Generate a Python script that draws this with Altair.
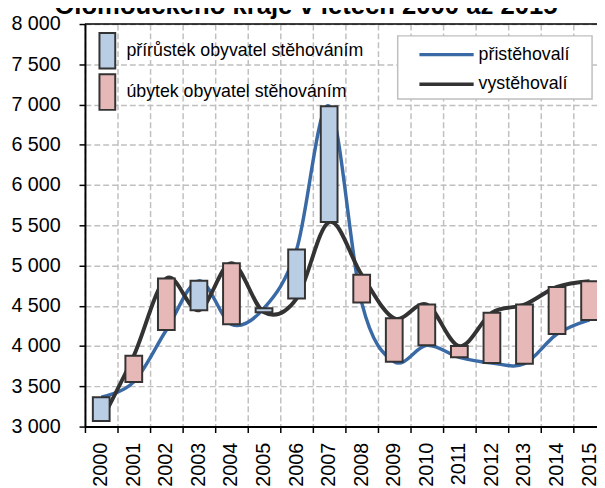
import altair as alt
import pandas as pd

title_text = "Olomouckého kraje v letech 2000 až 2015"
years = [str(y) for y in range(2000, 2016)]
pristehovali = [3365, 3555, 4200, 4810, 4270, 4470, 5200, 6980, 4540, 3805,
                4010, 3860, 3790, 3780, 4150, 4325]
vystehovali = [3070, 3880, 4840, 4445, 5030, 4420, 4590, 5540, 4885, 4345,
               4515, 4000, 4415, 4515, 4735, 4805]
y_ticks = list(range(3000, 8001, 500))
bar_labels = ["přírůstek obyvatel stěhováním", "úbytek obyvatel stěhováním"]
line_labels = ["přistěhovalí", "vystěhovalí"]

BLUE_FILL = "#b9cde5"
PINK_FILL = "#e6b9b8"
BLUE_LINE = "#3a6aa6"
DARK = "#333333"
GRID = "#c0c0c0"
FONT = "Liberation Sans"

df = pd.DataFrame({"rok": years, "pristehovali": pristehovali, "vystehovali": vystehovali})
df["typ"] = [bar_labels[0] if p >= v else bar_labels[1] for p, v in zip(pristehovali, vystehovali)]

x_axis = alt.Axis(title=None, bandPosition=0, labelAngle=-90,
                  labelFont=FONT, labelFontSize=20, labelColor="black", labelPadding=10,
                  tickSize=6, tickColor="black", tickWidth=1.5,
                  domainColor="black", domainWidth=2,
                  grid=True, gridColor=GRID, gridDash=[6, 3], gridWidth=1.5)
x_enc = alt.X("rok:N", sort=years, scale=alt.Scale(paddingInner=0, paddingOuter=0), axis=x_axis)

y_scale = alt.Scale(domain=[3000, 8000], nice=False, zero=False)
y_axis = alt.Axis(title=None, values=y_ticks,
                  labelExpr="replace(format(datum.value, ','), ',', ' ')",
                  labelFont=FONT, labelFontSize=20, labelColor="black", labelPadding=19,
                  tickSize=6, tickColor="black", tickWidth=1.5,
                  domainColor="black", domainWidth=2,
                  grid=True, gridColor=GRID, gridDash=[6, 3], gridWidth=1.5)

lines = alt.Chart(df).transform_fold(
    ["pristehovali", "vystehovali"], as_=["serie", "hodnota"]
).mark_line(interpolate="cardinal").encode(
    x=x_enc,
    y=alt.Y("hodnota:Q", scale=y_scale, axis=y_axis),
    stroke=alt.Stroke("serie:N", scale=alt.Scale(domain=["pristehovali", "vystehovali"],
                                                  range=[BLUE_LINE, DARK]), legend=None),
    strokeWidth=alt.StrokeWidth("serie:N", scale=alt.Scale(domain=["pristehovali", "vystehovali"],
                                                            range=[3.5, 4]), legend=None),
)

bars = alt.Chart(df).mark_bar(size=17, stroke=DARK, strokeWidth=2).encode(
    x=x_enc,
    y=alt.Y("vystehovali:Q", scale=y_scale, axis=y_axis),
    y2="pristehovali:Q",
    fill=alt.Fill("typ:N", scale=alt.Scale(domain=bar_labels, range=[BLUE_FILL, PINK_FILL]), legend=None),
)

top_rule = alt.Chart(pd.DataFrame({"v": [8000]})).mark_rule(color="black", strokeWidth=1.5).encode(
    y=alt.Y("v:Q", scale=y_scale, axis=y_axis)
)

one = pd.DataFrame({"k": [0]})

def text_layer(txt, x, y, size=18, weight="normal", align="left", baseline="middle"):
    return alt.Chart(pd.DataFrame({"t": [txt]})).mark_text(
        font=FONT, fontSize=size, fontWeight=weight, align=align, baseline=baseline, color="black"
    ).encode(text="t:N", x=alt.value(x), y=alt.value(y))

def rect_layer(x, x2, y, y2, fill, stroke, sw):
    return alt.Chart(one).mark_rect(fill=fill, stroke=stroke, strokeWidth=sw).encode(
        x=alt.value(x), x2=alt.value(x2), y=alt.value(y), y2=alt.value(y2))

def rule_layer(x, x2, y, color, sw):
    return alt.Chart(one).mark_rule(color=color, strokeWidth=sw).encode(
        x=alt.value(x), x2=alt.value(x2), y=alt.value(y))

legend_layers = [
    rect_layer(14.7, 30.7, 9, 45, BLUE_FILL, DARK, 2),
    rect_layer(14.7, 30.7, 51, 87, PINK_FILL, DARK, 2),
    text_layer(bar_labels[0], 42, 27),
    text_layer(bar_labels[1], 42, 69),
    rect_layer(317, 514, 12, 76, "white", "#bfbfbf", 1.5),
    rule_layer(339, 394, 31, BLUE_LINE, 3.5),
    rule_layer(339, 394, 61, DARK, 3.5),
    text_layer(line_labels[0], 399, 31),
    text_layer(line_labels[1], 399, 61),
]

title = text_layer(title_text, 224, -10, size=26, weight="bold", align="center", baseline="alphabetic")

chart = alt.layer(lines, bars, top_rule, *legend_layers, title).properties(
    width=528, height=408,
    autosize=alt.AutoSizeParams(type="none"),
    padding={"left": 78, "top": 13, "right": -9, "bottom": 59},
).configure_view(stroke=None)

chart.save("out.html", embed_options={"renderer": "svg", "actions": False})
